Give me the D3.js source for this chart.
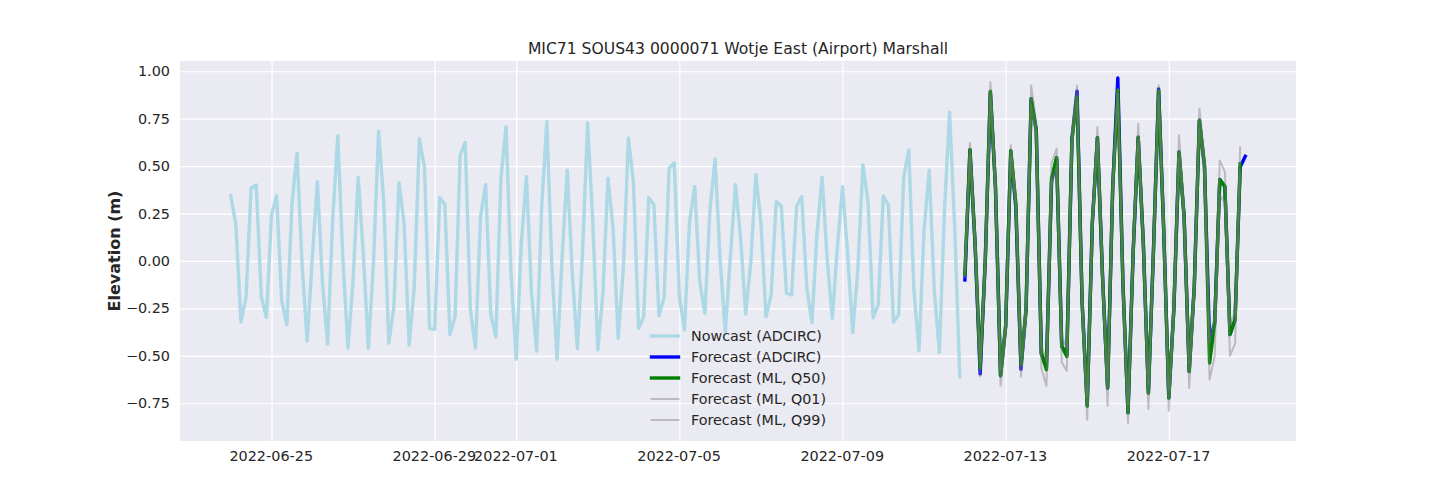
<!DOCTYPE html>
<html>
<head>
<meta charset="utf-8">
<script src="https://cdn.jsdelivr.net/npm/d3@7"></script>
<style>
  html, body { margin: 0; padding: 0; background: #fff; }
  text { font-family: "DejaVu Sans", sans-serif; fill: #262626; }
</style>
</head>
<body>
<div id="chart"></div>
<script>
// 3-hourly water levels
const nowcastStart = "2022-06-24T00:00:00Z";
const forecastStart = "2022-07-12T00:00:00Z";

const nowcast = [
  0.344, 0.195, -0.323, -0.192, 0.385, 0.400, -0.188, -0.297, 0.243, 0.344,
  -0.209, -0.337, 0.295, 0.568, -0.020, -0.422, 0.020, 0.418, -0.118, -0.438,
  0.220, 0.660, 0.010, -0.460, -0.100, 0.442, 0.040, -0.460, -0.010, 0.684,
  0.320, -0.434, -0.240, 0.413, 0.200, -0.443, -0.135, 0.644, 0.495, -0.355,
  -0.360, 0.333, 0.297, -0.387, -0.293, 0.555, 0.625, -0.250, -0.460, 0.234,
  0.402, -0.279, -0.400, 0.436, 0.708, -0.083, -0.518, 0.093, 0.445, -0.170,
  -0.475, 0.286, 0.736, -0.030, -0.518, 0.020, 0.478, -0.065, -0.462, 0.040,
  0.727, 0.216, -0.469, -0.170, 0.436, 0.172, -0.408, -0.047, 0.648, 0.410,
  -0.355, -0.293, 0.333, 0.297, -0.288, -0.192, 0.490, 0.516, -0.185, -0.364,
  0.207, 0.392, -0.109, -0.276, 0.269, 0.538, 0.005, -0.373, 0.020, 0.402,
  0.128, -0.279, -0.012, 0.456, 0.199, -0.293, -0.179, 0.313, 0.289, -0.170,
  -0.179, 0.288, 0.340, -0.144, -0.325, 0.146, 0.442, 0.005, -0.304, 0.076,
  0.392, 0.040, -0.378, -0.047, 0.508, 0.313, -0.299, -0.232, 0.343, 0.293,
  -0.322, -0.286, 0.442, 0.585, -0.153, -0.473, 0.163, 0.478, -0.153, -0.482,
  0.269, 0.784, 0.180, -0.610
];

const forecastAdcirc = [
  -0.100, 0.585, 0.090, -0.595, 0.000, 0.890, 0.390, -0.605, -0.345, 0.578,
  0.280, -0.570, -0.257, 0.855, 0.690, -0.490, -0.560, 0.420, 0.542, -0.450,
  -0.495, 0.640, 0.895, -0.220, -0.760, 0.200, 0.650, -0.080, -0.670, 0.390,
  0.965, -0.116, -0.800, 0.040, 0.652, 0.095, -0.696, 0.060, 0.907, 0.165,
  -0.722, -0.250, 0.575, 0.235, -0.582, -0.134, 0.742, 0.500, -0.430, -0.327,
  0.430, 0.392, -0.388, -0.310, 0.495, 0.552
];

const forecastQ50 = [
  -0.070, 0.588, 0.095, -0.565, 0.000, 0.895, 0.390, -0.605, -0.345, 0.583,
  0.306, -0.547, -0.257, 0.855, 0.690, -0.485, -0.573, 0.435, 0.545, -0.450,
  -0.503, 0.640, 0.865, -0.220, -0.766, 0.200, 0.650, -0.080, -0.670, 0.390,
  0.900, -0.116, -0.800, 0.040, 0.652, 0.095, -0.696, 0.060, 0.898, 0.165,
  -0.722, -0.250, 0.575, 0.235, -0.582, -0.134, 0.742, 0.500, -0.538, -0.327,
  0.430, 0.392, -0.388, -0.310, 0.512
];

const forecastQ01 = [
  -0.085, 0.560, 0.060, -0.608, -0.040, 0.860, 0.350, -0.657, -0.395, 0.550,
  0.270, -0.610, -0.310, 0.820, 0.650, -0.564, -0.660, 0.400, 0.500, -0.534,
  -0.580, 0.600, 0.840, -0.270, -0.837, 0.160, 0.620, -0.130, -0.763, 0.350,
  0.880, -0.170, -0.854, 0.000, 0.620, 0.050, -0.780, 0.020, 0.870, 0.120,
  -0.790, -0.300, 0.540, 0.190, -0.670, -0.190, 0.700, 0.450, -0.626, -0.503,
  0.350, 0.306, -0.500, -0.436, 0.470
];

const forecastQ99 = [
  -0.050, 0.622, 0.130, -0.530, 0.040, 0.943, 0.430, -0.570, -0.300, 0.610,
  0.340, -0.500, -0.210, 0.925, 0.730, -0.440, -0.530, 0.514, 0.592, -0.400,
  -0.460, 0.690, 0.925, -0.180, -0.720, 0.240, 0.706, -0.040, -0.620, 0.430,
  0.907, -0.070, -0.760, 0.080, 0.723, 0.130, -0.650, 0.100, 0.925, 0.210,
  -0.680, -0.200, 0.662, 0.280, -0.540, -0.090, 0.802, 0.550, -0.430, -0.280,
  0.530, 0.470, -0.340, -0.270, 0.600
];

const xTickLabels = ["2022-06-25", "2022-06-29", "2022-07-01", "2022-07-05", "2022-07-09", "2022-07-13", "2022-07-17"];
const yTickValues = [1.00, 0.75, 0.50, 0.25, 0.00, -0.25, -0.50, -0.75];
const yLimits = [-0.949, 1.054];

const legendLabels = ["Nowcast (ADCIRC)", "Forecast (ADCIRC)", "Forecast (ML, Q50)", "Forecast (ML, Q01)", "Forecast (ML, Q99)"];

const width = 1440;
const height = 504;
const margin = { top: 61, right: 144, bottom: 63, left: 180 };
const threeHours = 3 * 3600 * 1000;

function toPoints(values, start) {
  const t0 = new Date(start).getTime();
  return values.map(function(v, i) {
    return { date: new Date(t0 + i * threeHours), value: v };
  });
}

const svg = d3.select("#chart")
  .append("svg")
  .attr("width", width)
  .attr("height", height)
  .style("display", "block");

const plotW = width - margin.left - margin.right;
const plotH = height - margin.top - margin.bottom;

const g = svg.append("g")
  .attr("transform", `translate(${margin.left}, ${margin.top})`);

g.append("rect")
  .attr("width", plotW)
  .attr("height", plotH)
  .attr("fill", "#eaeaf2");

// x limits: data range plus the usual 5% either side
const t0 = new Date(nowcastStart).getTime();
const t1 = new Date(forecastStart).getTime() + (forecastAdcirc.length - 1) * threeHours;
const pad = (t1 - t0) * 0.05;

const x = d3.scaleUtc()
  .domain([new Date(t0 - pad), new Date(t1 + pad)])
  .range([0, plotW]);

const y = d3.scaleLinear()
  .domain(yLimits)
  .range([plotH, 0]);

const xAxis = d3.axisBottom(x)
  .tickValues(xTickLabels.map(function(d) { return new Date(d + "T00:00:00Z"); }))
  .tickFormat(d3.utcFormat("%Y-%m-%d"))
  .tickSizeInner(-plotH)
  .tickSizeOuter(0)
  .tickPadding(10);

const yAxis = d3.axisLeft(y)
  .tickValues(yTickValues)
  .tickFormat(d3.format(".2f"))
  .tickSizeInner(-plotW)
  .tickSizeOuter(0)
  .tickPadding(10);

[
  g.append("g").attr("transform", `translate(0, ${plotH})`).call(xAxis),
  g.append("g").call(yAxis)
].forEach(function(axis) {
  axis.select(".domain").remove();
  axis.selectAll("line").attr("stroke", "#fff").attr("stroke-width", 1.2);
  axis.selectAll("text").attr("font-size", 14.4).attr("fill", "#262626");
});

g.selectAll("g.tick text")
  .filter(function() { return d3.select(this).attr("dy") === "0.71em"; })
  .attr("dx", -0.8);

const line = d3.line()
  .x(function(d) { return x(d.date); })
  .y(function(d) { return y(d.value); });

const seriesList = [
  { values: nowcast, start: nowcastStart, color: "lightblue", w: 3.4, op: 1 },
  { values: forecastAdcirc, start: forecastStart, color: "blue", w: 3.4, op: 1 },
  { values: forecastQ50, start: forecastStart, color: "green", w: 3.4, op: 1 },
  { values: forecastQ01, start: forecastStart, color: "gray", w: 2, op: 0.45 },
  { values: forecastQ99, start: forecastStart, color: "gray", w: 2, op: 0.45 }
];

seriesList.forEach(function(s) {
  g.append("path")
    .datum(toPoints(s.values, s.start))
    .attr("d", line)
    .attr("fill", "none")
    .attr("stroke", s.color)
    .attr("stroke-width", s.w)
    .attr("stroke-opacity", s.op)
    .attr("stroke-linejoin", "round")
    .attr("stroke-linecap", "square");
});

// legend, no frame
const legend = svg.append("g").attr("transform", "translate(651.5, 336)");

legendLabels.forEach(function(label, i) {
  const row = legend.append("g").attr("transform", `translate(0, ${i * 21})`);
  row.append("line")
    .attr("x1", 0)
    .attr("x2", 27)
    .attr("stroke", seriesList[i].color)
    .attr("stroke-width", seriesList[i].w)
    .attr("stroke-opacity", seriesList[i].op)
    .attr("stroke-linecap", "square");
  row.append("text")
    .attr("x", 39.5)
    .attr("dy", "0.36em")
    .attr("font-size", 14.3)
    .text(label);
});

svg.append("text")
  .attr("x", margin.left + plotW / 2)
  .attr("y", 54)
  .attr("text-anchor", "middle")
  .attr("font-size", 15.6)
  .text("MIC71 SOUS43 0000071 Wotje East (Airport) Marshall");

svg.append("text")
  .attr("transform", `translate(119.5, ${margin.top + plotH / 2}) rotate(-90)`)
  .attr("text-anchor", "middle")
  .attr("font-size", 16)
  .attr("font-weight", "bold")
  .text("Elevation (m)");
</script>
</body>
</html>
